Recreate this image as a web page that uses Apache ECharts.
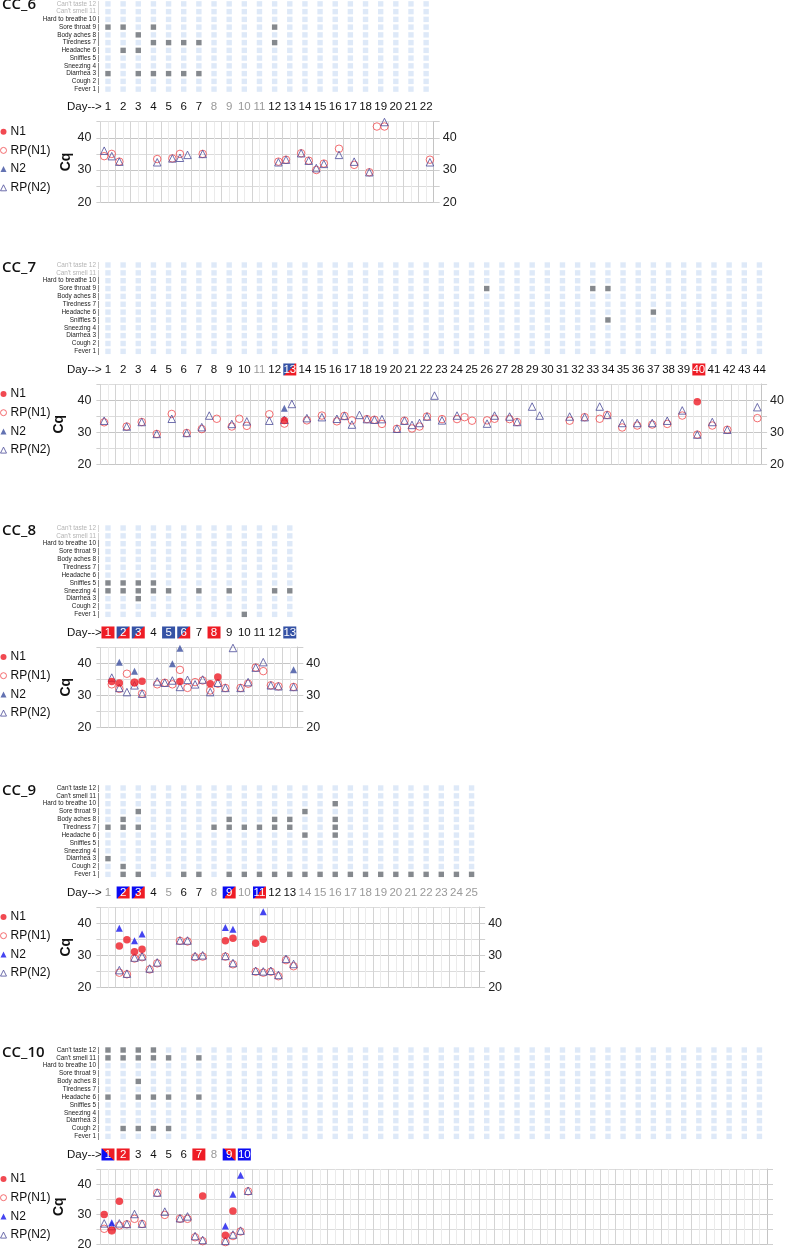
<!DOCTYPE html>
<html>
<head>
<meta charset="utf-8">
<script src="https://cdn.jsdelivr.net/npm/echarts@6/dist/echarts.min.js"></script>
<style>
  html, body { margin: 0; padding: 0; background: #fff; }
  #chart { width: 787px; height: 1251px; }
</style>
</head>
<body>
<div id="chart"></div>
<script>
// symptom rows, bottom (1) to top (12)
const symptomNames = ['Fever 1 |', 'Cough 2 |', 'Diarrhea 3 |', 'Sneezing 4 |', 'Sniffles 5 |', 'Headache 6 |',
  'Tiredness 7 |', 'Body aches 8 |', 'Sore throat 9 |', 'Hard to breathe 10 |', "Can't smell 11 |", "Can't taste 12 |"];

// ---- CC_6 ----
const cc6Days = 22;
const cc6Grey = [8, 9, 10, 11];
const cc6Sym = { 9: [1, 2, 4, 12], 8: [3], 7: [4, 5, 6, 7, 12], 6: [2, 3], 3: [1, 3, 4, 5, 6, 7] };
const cc6N1 = [];
const cc6RPN1 = [[0.75, 34.3], [1.25, 35], [1.75, 32.6], [4.25, 33.4], [5.25, 33.6], [5.75, 35], [7.25, 35],
  [12.25, 32.6], [12.75, 33.2], [13.75, 35.2], [14.25, 32.9], [14.75, 30], [15.25, 32], [16.25, 36.6],
  [17.25, 31.6], [18.25, 29.3], [18.75, 43.5], [19.25, 43.5], [22.25, 33.2]];
const cc6N2 = [];
const cc6RPN2 = [[0.75, 36], [1.25, 34.3], [1.75, 32.6], [4.25, 32.4], [5.25, 33.6], [5.75, 33.8], [6.25, 34.7],
  [7.25, 35], [12.25, 32.4], [12.75, 33.2], [13.75, 35.2], [14.25, 32.9], [14.75, 30.6], [15.25, 31.9],
  [16.25, 34.7], [17.25, 32.6], [18.25, 29.3], [19.25, 44.9], [22.25, 32.4]];

// ---- CC_7 ----
const cc7Days = 44;
const cc7Grey = [11];
const cc7Sym = { 9: [26, 33, 34], 6: [37], 5: [34] };
const cc7N1 = [[12.75, 33.7], [40.25, 39.5]];
const cc7RPN1 = [[0.75, 33.1], [2.25, 31.8], [3.25, 33.2], [4.25, 29.5], [5.25, 35.7], [6.25, 29.8], [7.25, 31],
  [8.25, 34.2], [9.25, 31.8], [9.75, 34.2], [10.25, 32], [11.75, 35.6], [12.75, 32.7], [14.25, 33.7],
  [15.25, 35.2], [16.25, 33.4], [16.75, 35.1], [17.25, 33.7], [18.25, 34.1], [18.75, 33.9], [19.25, 32.6],
  [20.25, 31.1], [20.75, 33.6], [21.25, 31.2], [21.75, 31.8], [22.25, 34.9], [23.25, 34.1], [24.25, 34.1],
  [24.75, 34.7], [25.25, 33.6], [26.25, 33.7], [26.75, 34.2], [27.75, 34.1], [28.25, 33.2], [31.75, 33.6],
  [32.75, 34.7], [33.75, 34.2], [34.25, 35.4], [35.25, 31.5], [36.25, 32.1], [37.25, 32.4], [38.25, 32.6],
  [39.25, 35.2], [40.25, 29.3], [41.25, 32.1], [42.25, 30.8], [44.25, 34.4]];
const cc7N2 = [[12.75, 37.5]];
const cc7RPN2 = [[0.75, 33.6], [2.25, 31.8], [3.25, 33.2], [4.25, 29.5], [5.25, 34.2], [6.25, 29.8], [7.25, 31.6],
  [7.75, 35.2], [9.25, 32.6], [10.25, 33.4], [11.75, 33.6], [12.75, 33.9], [13.25, 38.8], [14.25, 34.4],
  [15.25, 34.7], [16.25, 34.2], [16.75, 35.1], [17.25, 32.4], [17.75, 35.4], [18.25, 34.1], [18.75, 33.9],
  [19.25, 34.1], [20.25, 31.1], [20.75, 33.6], [21.25, 32.3], [21.75, 32.9], [22.25, 34.9], [22.75, 41.4],
  [23.25, 33.7], [24.25, 35.2], [26.25, 32.7], [26.75, 35.2], [27.75, 34.9], [28.25, 33.2], [29.25, 38],
  [29.75, 35.2], [31.75, 34.9], [32.75, 34.7], [33.75, 38], [34.25, 35.4], [35.25, 32.9], [36.25, 32.9],
  [37.25, 32.9], [38.25, 33.6], [39.25, 36.8], [40.25, 29.3], [41.25, 33.2], [42.25, 30.8], [44.25, 37.8]];

// ---- CC_8 ----
const cc8Days = 13;
const cc8Grey = [];
const cc8Sym = { 5: [1, 2, 3, 4], 4: [1, 2, 3, 4, 5, 7, 9, 12, 13], 3: [3], 1: [10] };
const cc8N1 = [[1.25, 34.3], [1.75, 33.8], [2.75, 33.9], [3.25, 34.4], [5.75, 34.3], [7.75, 33.6], [8.25, 35.7]];
const cc8RPN1 = [[1.25, 33.4], [1.75, 32], [2.25, 36.7], [2.75, 34], [3.25, 30.5], [4.25, 33.4], [4.75, 33.9],
  [5.25, 33.4], [5.75, 37.9], [6.25, 32.3], [6.75, 34.1], [7.25, 34.6], [7.75, 31.5], [8.25, 33.6], [8.75, 32.3],
  [9.75, 32.3], [10.25, 33.6], [10.75, 38.6], [11.25, 37.5], [11.75, 33.1], [12.25, 32.8], [13.25, 32.6]];
const cc8N2 = [[1.75, 40.3], [2.75, 37.5], [5.25, 39.8], [5.75, 44.6], [13.25, 37.9]];
const cc8RPN2 = [[1.25, 35.5], [1.75, 32.3], [2.25, 31], [2.75, 33.1], [3.25, 30.5], [4.25, 34.3], [4.75, 33.9],
  [5.25, 34.6], [5.75, 32.6], [6.25, 34.8], [6.75, 33.4], [7.25, 34.9], [7.75, 31], [8.25, 33.9], [8.75, 32.3],
  [9.25, 44.7], [9.75, 32.3], [10.25, 34.1], [10.75, 38.6], [11.25, 40.3], [11.75, 33.1], [12.25, 32.8], [13.25, 32.6]];

// ---- CC_9 ----
const cc9Days = 25;
const cc9Grey = [1, 5, 8, 10, 14, 15, 16, 17, 18, 19, 20, 21, 22, 23, 24, 25];
const cc9Sym = {
  10: [16], 9: [3, 14], 8: [2, 9, 12, 13, 16], 7: [1, 2, 3, 8, 9, 10, 11, 12, 13, 16], 6: [14, 16],
  3: [1], 2: [2], 1: [2, 3, 6, 7, 9, 10, 11, 12, 13, 14, 15, 16, 17, 18, 19, 20, 21, 22, 23, 24, 25]
};
const cc9N1 = [[1.75, 32.9], [2.25, 34.8], [2.75, 31.1], [3.25, 31.9], [8.75, 34.5], [9.25, 35.3], [10.75, 33.75], [11.25, 35]];
const cc9RPN1 = [[1.75, 24.6], [2.25, 24.1], [2.75, 29], [3.25, 29.4], [3.75, 25.6], [4.25, 27.5], [5.75, 34.5],
  [6.25, 34.3], [6.75, 29.4], [7.25, 29.6], [8.75, 29.6], [9.25, 27.2], [10.75, 24.9], [11.25, 24.6],
  [11.75, 24.9], [12.25, 23.5], [12.75, 28.5], [13.25, 26.6]];
const cc9N2 = [[1.75, 38.4], [2.75, 34.5], [3.25, 36.6], [8.75, 38.6], [9.25, 38.1], [11.25, 43.5]];
const cc9RPN2 = [[1.75, 25.4], [2.25, 24.3], [2.75, 29.3], [3.25, 29.7], [3.75, 25.9], [4.25, 27.8], [5.75, 34.6],
  [6.25, 34.6], [6.75, 29.8], [7.25, 30], [8.75, 29.8], [9.25, 27.6], [10.75, 25.2], [11.25, 25],
  [11.75, 25.2], [12.25, 23.9], [12.75, 28.9], [13.25, 27.3]];

// ---- CC_10 ----
const cc10Days = 44;
const cc10Labelled = 10;
const cc10Grey = [8];
const cc10Sym = { 12: [1, 2, 3, 4], 11: [1, 2, 3, 4, 5, 7], 8: [3], 6: [1, 3, 4, 5, 7], 2: [2, 3, 4, 5] };
const cc10N1 = [[0.75, 29.9], [1.25, 24.7], [1.75, 34.3], [7.25, 36.1], [8.75, 23.1], [9.25, 31.1]];
const cc10RPN1 = [[0.75, 25.2], [1.25, 24.6], [1.75, 26.3], [2.25, 26.7], [2.75, 28.5], [3.25, 26.8], [4.25, 37.1],
  [4.75, 29.8], [5.75, 28.5], [6.25, 28.5], [6.75, 22.4], [7.25, 21.1], [8.75, 20.8], [9.25, 22.8], [9.75, 24.3], [10.25, 37.6]];
const cc10N2 = [[1.25, 27.2], [8.75, 26.1], [9.25, 36.6], [9.75, 42.9]];
const cc10RPN2 = [[0.75, 27], [1.25, 26.1], [1.75, 27], [2.25, 26.8], [2.75, 30.1], [3.25, 26.9], [4.25, 37.2],
  [4.75, 30.9], [5.75, 28.7], [6.25, 29.3], [6.75, 22.8], [7.25, 21.5], [8.75, 21.2], [9.25, 23.3], [9.75, 24.6], [10.25, 37.8]];

const FONT = "'Liberation Sans', Arial, sans-serif";
const RED = '#ee1c25';
const RP_RED = '#f04a4e';
const RP_NAVY = '#4b4b98';
const LIGHT = '#d6e4f6';
const DARK = '#676b72';
const COL_W = 15.15;  // px per day
const ROW_H = 7.85;   // px per symptom row

const panels = [
  { title: 'CC_6', base: 2.7, days: cc6Days, labelled: cc6Days, grey: cc6Grey, sym: cc6Sym,
    n1: cc6N1, rpn1: cc6RPN1, n2: cc6N2, rpn2: cc6RPN2, blue: '#3552a5', n2Color: '#3c4f9f', fadeTop: true, right: true, flip: false },
  { title: 'CC_7', base: 265, days: cc7Days, labelled: cc7Days, grey: cc7Grey, sym: cc7Sym,
    n1: cc7N1, rpn1: cc7RPN1, n2: cc7N2, rpn2: cc7RPN2, blue: '#3552a5', n2Color: '#3c4f9f', fadeTop: true, right: true, flip: false },
  { title: 'CC_8', base: 528, days: cc8Days, labelled: cc8Days, grey: cc8Grey, sym: cc8Sym,
    n1: cc8N1, rpn1: cc8RPN1, n2: cc8N2, rpn2: cc8RPN2, blue: '#3552a5', n2Color: '#3c4f9f', fadeTop: true, right: true, flip: false },
  { title: 'CC_9', base: 788, days: cc9Days, labelled: cc9Days, grey: cc9Grey, sym: cc9Sym,
    n1: cc9N1, rpn1: cc9RPN1, n2: cc9N2, rpn2: cc9RPN2, blue: '#0b0bf2', n2Color: '#1717ec', fadeTop: false, right: true, flip: false },
  { title: 'CC_10', base: 1050, days: cc10Days, labelled: cc10Labelled, grey: cc10Grey, sym: cc10Sym,
    n1: cc10N1, rpn1: cc10RPN1, n2: cc10N2, rpn2: cc10RPN2, blue: '#0b0bf2', n2Color: '#1717ec', fadeTop: false, right: false, flip: true }
];

const chart = echarts.init(document.getElementById('chart'), null, { renderer: 'canvas' });

const grid = [], xAxis = [], yAxis = [], series = [], title = [], legend = [], graphic = [];

panels.forEach((p, i) => {
  const width = p.days * COL_W;
  const hx = 2 * i, sx = 2 * i + 1;
  const hy = 3 * i, ly = 3 * i + 1;

  grid.push({ left: 100.4, top: p.base - ROW_H / 2, width, height: ROW_H * 12 });
  grid.push({ left: 100.4, top: p.base + 119, width, height: 80.5 });

  // day status from the sample data: a sample at d-0.25 / d+0.25 belongs to day d
  const n1Days = new Set(p.n1.map(d => Math.round(d[0])));
  const n2Days = new Set(p.n2.map(d => Math.round(d[0])));
  const stops = [{ offset: 0, color: p.blue }, { offset: 0.5, color: p.blue }, { offset: 0.5, color: RED }, { offset: 1, color: RED }];
  const split = p.flip
    ? new echarts.graphic.LinearGradient(0, 1, 1, 0, stops)
    : new echarts.graphic.LinearGradient(0, 0, 1, 1, stops);
  const box = { color: '#fff', width: 13, height: 12, lineHeight: 12, align: 'center', fontSize: 11.5, fontFamily: FONT };

  const days = [];
  for (let d = 1; d <= p.days; d++) days.push(String(d));

  xAxis.push({
    type: 'category', gridIndex: hx, data: days,
    axisLine: { show: false }, axisTick: { show: false }, splitLine: { show: false },
    axisLabel: {
      interval: 0, margin: 14.2, verticalAlign: 'middle',
      formatter: (v, idx) => {
        const d = idx + 1;
        if (d > p.labelled) return '';
        if (n1Days.has(d) && n2Days.has(d)) return `{x|${d}}`;
        if (n1Days.has(d)) return `{r|${d}}`;
        if (n2Days.has(d)) return `{b|${d}}`;
        if (p.grey.includes(d)) return `{g|${d}}`;
        return `{k|${d}}`;
      },
      rich: {
        k: { color: '#111', fontSize: 11.5, fontFamily: FONT },
        g: { color: '#9a9a9a', fontSize: 11.5, fontFamily: FONT },
        r: Object.assign({ backgroundColor: RED }, box),
        b: Object.assign({ backgroundColor: p.blue }, box),
        x: Object.assign({ backgroundColor: split }, box)
      }
    }
  });
  xAxis.push({
    type: 'value', gridIndex: sx, min: 0.5, max: p.days + 0.5, interval: 0.5,
    axisLine: { show: false }, axisTick: { show: false }, axisLabel: { show: false },
    splitLine: { show: true, lineStyle: { color: ['#d4d4d4', '#ebebeb'], width: 1 } }
  });

  yAxis.push({
    type: 'category', gridIndex: hx, data: symptomNames,
    axisLine: { show: false }, axisTick: { show: false }, splitLine: { show: false },
    axisLabel: {
      interval: 0, margin: 1, fontSize: 6.4, fontFamily: FONT,
      color: (v, idx) => (p.fadeTop && idx >= 10 ? '#b4b4b4' : '#222')
    }
  });
  const yBase = {
    type: 'value', gridIndex: sx, min: 20, max: 45, interval: 5,
    axisLabel: { fontSize: 12.5, fontFamily: FONT, color: '#222', margin: 9,
      formatter: v => (v % 10 === 0 ? v : '') }
  };
  yAxis.push(Object.assign({}, yBase, {
    position: 'left',
    name: 'Cq', nameLocation: 'middle', nameRotate: 90, nameGap: 27,
    nameTextStyle: { fontSize: 14, fontWeight: 'bold', fontFamily: FONT, color: '#111' },
    axisLine: { show: false },
    axisTick: { show: true, length: 4, lineStyle: { color: '#cfcfcf' } },
    splitLine: { show: true, lineStyle: { color: ['#c6c6c6', '#dcdcdc'], width: 1 } }
  }));
  yAxis.push(Object.assign({}, yBase, {
    position: 'right',
    axisLine: { show: true, lineStyle: { color: '#c4c4c4' } },
    axisTick: { show: true, length: 6, lineStyle: { color: '#cfcfcf' } },
    axisLabel: Object.assign({}, yBase.axisLabel, { show: p.right }),
    splitLine: { show: false }
  }));

  // symptom cells
  const cells = [];
  for (let d = 1; d <= p.days; d++) {
    for (let r = 1; r <= 12; r++) {
      const on = (p.sym[r] || []).includes(d);
      cells.push({ value: [d - 1, r - 1], itemStyle: { color: on ? DARK : LIGHT } });
    }
  }
  series.push({
    type: 'scatter', xAxisIndex: hx, yAxisIndex: hy, symbol: 'rect', symbolSize: 5.4,
    data: cells, silent: true, z: 2
  });

  series.push({
    name: 'RP(N1)', type: 'scatter', xAxisIndex: sx, yAxisIndex: ly, data: p.rpn1,
    symbol: 'circle', symbolSize: 7.5,
    itemStyle: { color: 'rgba(255,255,255,0)', borderColor: RP_RED, borderWidth: 1 }, z: 3
  });
  series.push({
    name: 'RP(N2)', type: 'scatter', xAxisIndex: sx, yAxisIndex: ly, data: p.rpn2,
    symbol: 'triangle', symbolSize: 7.5,
    itemStyle: { color: 'rgba(255,255,255,0)', borderColor: RP_NAVY, borderWidth: 1 }, z: 4
  });
  series.push({
    name: 'N1', type: 'scatter', xAxisIndex: sx, yAxisIndex: ly, data: p.n1,
    symbol: 'circle', symbolSize: 7.5, itemStyle: { color: RED }, z: 5
  });
  series.push({
    name: 'N2', type: 'scatter', xAxisIndex: sx, yAxisIndex: ly, data: p.n2,
    symbol: 'triangle', symbolSize: 7, itemStyle: { color: p.n2Color }, z: 6
  });

  title.push({
    text: p.title, left: 2, top: p.base - 5, padding: 0,
    textStyle: { fontSize: 15, fontWeight: 600, fontFamily: "'Open Sans', sans-serif", color: '#111' }
  });

  legend.push({
    orient: 'vertical', left: 0, top: p.base + 122.5, padding: 0,
    itemWidth: 6, itemHeight: 6, itemGap: 5.7, selectedMode: false,
    textStyle: { fontSize: 12, lineHeight: 13, fontFamily: FONT, color: '#111', padding: [0, 0, 0, -1] },
    data: [
      { name: 'N1', icon: 'circle', itemStyle: { color: RED } },
      { name: 'RP(N1)', icon: 'circle', itemStyle: { color: '#fff', borderColor: RP_RED, borderWidth: 1 } },
      { name: 'N2', icon: 'triangle', itemStyle: { color: p.n2Color } },
      { name: 'RP(N2)', icon: 'triangle', itemStyle: { color: '#fff', borderColor: RP_NAVY, borderWidth: 1 } }
    ]
  });

  graphic.push({
    type: 'text', x: 67, y: p.base + 104.5,
    style: { text: 'Day-->', fontSize: 11.5, fontFamily: FONT, fill: '#111', verticalAlign: 'middle' }
  });
});

chart.setOption({
  animation: false,
  title, legend, grid, xAxis, yAxis, series, graphic
});
</script>
</body>
</html>
